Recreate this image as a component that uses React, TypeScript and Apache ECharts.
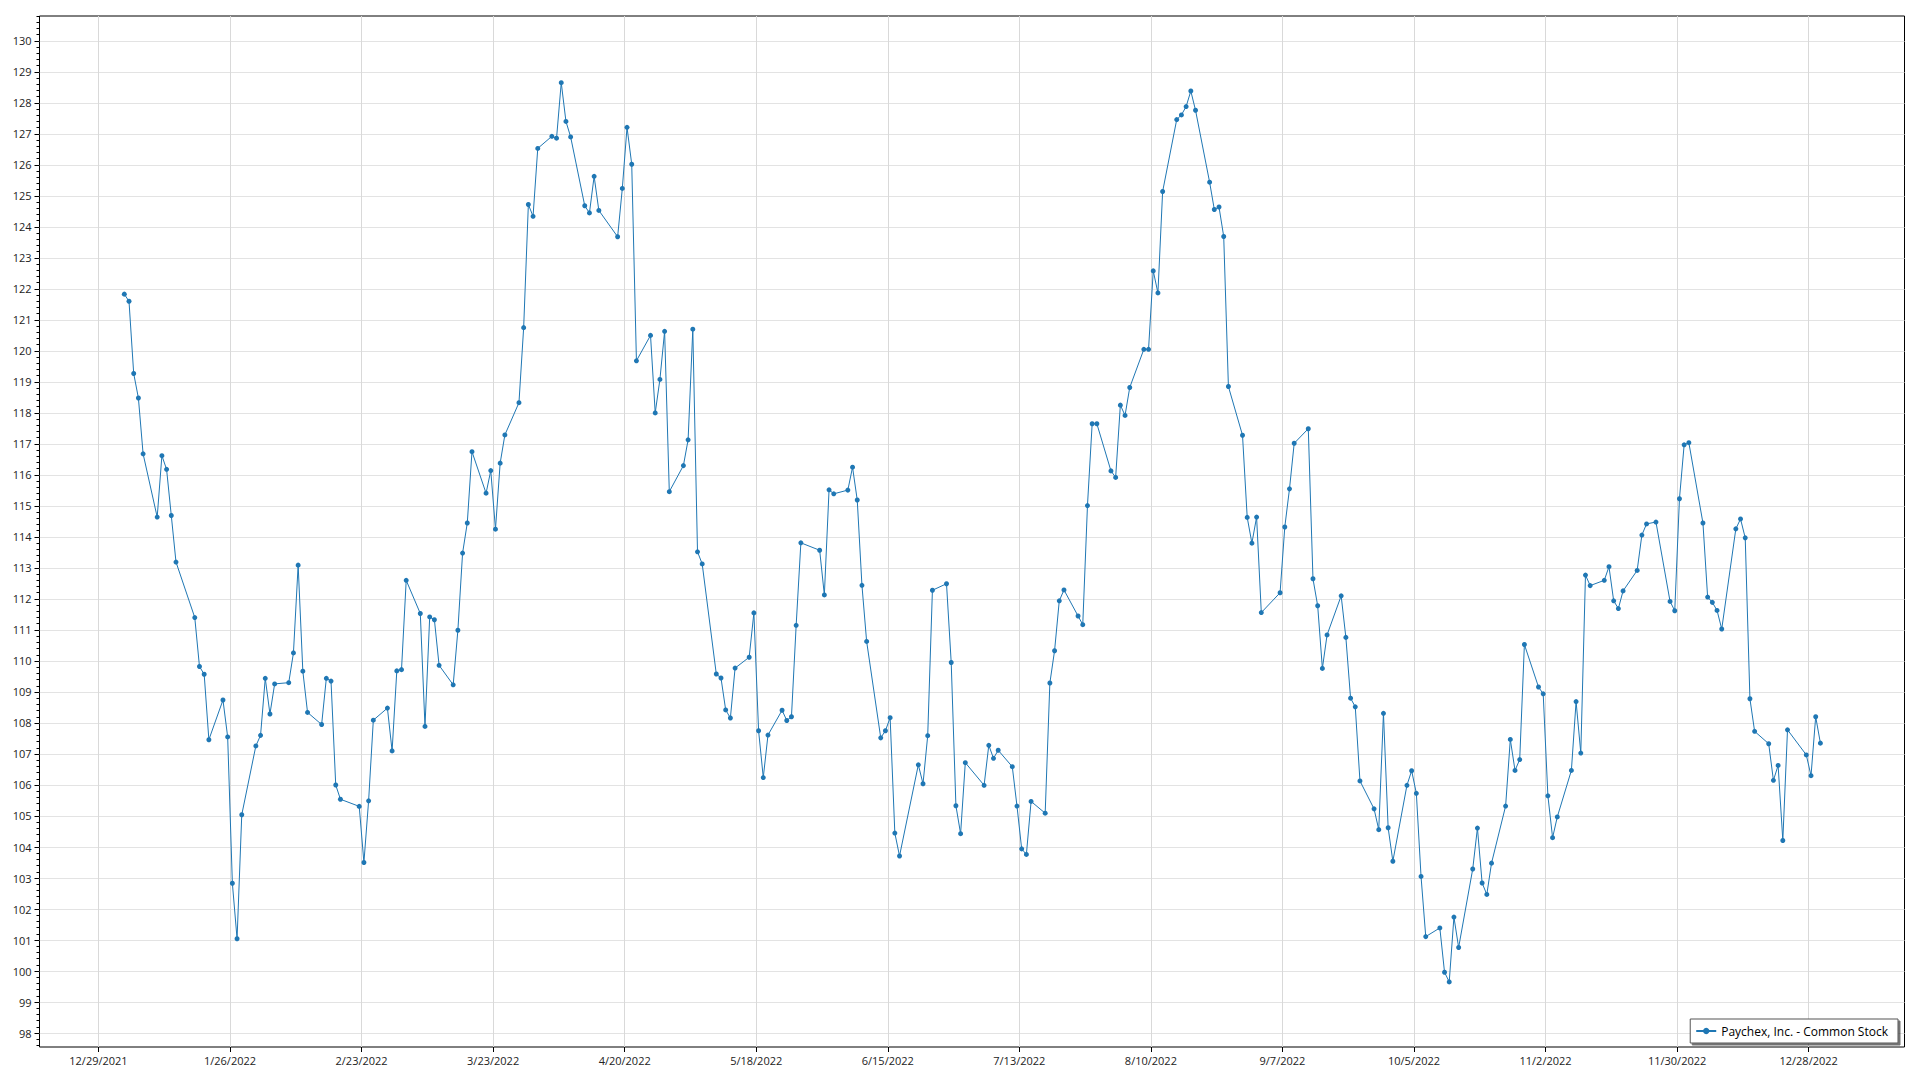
import React, { useEffect, useRef } from "react";
import * as echarts from "echarts";

// ---- data ----
const seriesName = "Paychex, Inc. - Common Stock";

const dates = [
  "2022-01-03","2022-01-04","2022-01-05","2022-01-06","2022-01-07","2022-01-10","2022-01-11","2022-01-12","2022-01-13","2022-01-14",
  "2022-01-18","2022-01-19","2022-01-20","2022-01-21","2022-01-24","2022-01-25","2022-01-26","2022-01-27","2022-01-28","2022-01-31",
  "2022-02-01","2022-02-02","2022-02-03","2022-02-04","2022-02-07","2022-02-08","2022-02-09","2022-02-10","2022-02-11","2022-02-14",
  "2022-02-15","2022-02-16","2022-02-17","2022-02-18","2022-02-22","2022-02-23","2022-02-24","2022-02-25","2022-02-28",
  "2022-03-01","2022-03-02","2022-03-03","2022-03-04","2022-03-07","2022-03-08","2022-03-09","2022-03-10","2022-03-11","2022-03-14",
  "2022-03-15","2022-03-16","2022-03-17","2022-03-18","2022-03-21","2022-03-22","2022-03-23","2022-03-24","2022-03-25","2022-03-28",
  "2022-03-29","2022-03-30","2022-03-31",
  "2022-04-01","2022-04-04","2022-04-05","2022-04-06","2022-04-07","2022-04-08","2022-04-11","2022-04-12","2022-04-13","2022-04-14",
  "2022-04-18","2022-04-19","2022-04-20","2022-04-21","2022-04-22","2022-04-25","2022-04-26","2022-04-27","2022-04-28","2022-04-29",
  "2022-05-02","2022-05-03","2022-05-04","2022-05-05","2022-05-06","2022-05-09","2022-05-10","2022-05-11","2022-05-12","2022-05-13",
  "2022-05-16","2022-05-17","2022-05-18","2022-05-19","2022-05-20","2022-05-23","2022-05-24","2022-05-25","2022-05-26","2022-05-27",
  "2022-05-31",
  "2022-06-01","2022-06-02","2022-06-03","2022-06-06","2022-06-07","2022-06-08","2022-06-09","2022-06-10","2022-06-13","2022-06-14",
  "2022-06-15","2022-06-16","2022-06-17","2022-06-21","2022-06-22","2022-06-23","2022-06-24","2022-06-27","2022-06-28","2022-06-29",
  "2022-06-30",
  "2022-07-01","2022-07-05","2022-07-06","2022-07-07","2022-07-08","2022-07-11","2022-07-12","2022-07-13","2022-07-14","2022-07-15",
  "2022-07-18","2022-07-19","2022-07-20","2022-07-21","2022-07-22","2022-07-25","2022-07-26","2022-07-27","2022-07-28","2022-07-29",
  "2022-08-01","2022-08-02","2022-08-03","2022-08-04","2022-08-05","2022-08-08","2022-08-09","2022-08-10","2022-08-11","2022-08-12",
  "2022-08-15","2022-08-16","2022-08-17","2022-08-18","2022-08-19","2022-08-22","2022-08-23","2022-08-24","2022-08-25","2022-08-26",
  "2022-08-29","2022-08-30","2022-08-31",
  "2022-09-01","2022-09-02","2022-09-06","2022-09-07","2022-09-08","2022-09-09","2022-09-12","2022-09-13","2022-09-14","2022-09-15",
  "2022-09-16","2022-09-19","2022-09-20","2022-09-21","2022-09-22","2022-09-23","2022-09-26","2022-09-27","2022-09-28","2022-09-29",
  "2022-09-30",
  "2022-10-03","2022-10-04","2022-10-05","2022-10-06","2022-10-07","2022-10-10","2022-10-11","2022-10-12","2022-10-13","2022-10-14",
  "2022-10-17","2022-10-18","2022-10-19","2022-10-20","2022-10-21","2022-10-24","2022-10-25","2022-10-26","2022-10-27","2022-10-28",
  "2022-10-31",
  "2022-11-01","2022-11-02","2022-11-03","2022-11-04","2022-11-07","2022-11-08","2022-11-09","2022-11-10","2022-11-11","2022-11-14",
  "2022-11-15","2022-11-16","2022-11-17","2022-11-18","2022-11-21","2022-11-22","2022-11-23","2022-11-25","2022-11-28","2022-11-29",
  "2022-11-30",
  "2022-12-01","2022-12-02","2022-12-05","2022-12-06","2022-12-07","2022-12-08","2022-12-09","2022-12-12","2022-12-13","2022-12-14",
  "2022-12-15","2022-12-16","2022-12-19","2022-12-20","2022-12-21","2022-12-22","2022-12-23","2022-12-27","2022-12-28","2022-12-29",
  "2022-12-30",
];

const closes = [
  121.83,121.6,119.27,118.48,116.68,114.64,116.62,116.18,114.69,113.19,
  111.4,109.82,109.57,107.46,108.74,107.55,102.83,101.04,105.04,107.26,
  107.6,109.44,108.29,109.26,109.3,110.26,113.09,109.67,108.34,107.95,
  109.44,109.35,106.0,105.54,105.31,103.5,105.49,108.09,108.48,
  107.1,109.68,109.72,112.6,111.53,107.89,111.42,111.33,109.86,109.23,
  110.99,113.48,114.45,116.75,115.41,116.14,114.25,116.38,117.29,118.33,
  120.75,124.72,124.34,
  126.53,126.92,126.86,128.65,127.4,126.9,124.68,124.45,125.63,124.53,
  123.68,125.24,127.21,126.02,119.68,120.5,118.0,119.08,120.63,115.46,
  116.3,117.13,120.7,113.52,113.13,109.58,109.45,108.42,108.16,109.77,
  110.12,111.55,107.75,106.24,107.61,108.41,108.08,108.2,111.15,113.81,
  113.57,
  112.13,115.52,115.39,115.51,116.25,115.19,112.44,110.63,107.52,107.75,
  108.17,104.45,103.71,106.65,106.04,107.59,112.28,112.49,109.95,105.33,
  104.43,
  106.72,105.99,107.28,106.86,107.12,106.59,105.32,103.94,103.76,105.47,
  105.09,109.29,110.33,111.94,112.29,111.45,111.17,115.01,117.65,117.65,
  116.13,115.92,118.25,117.92,118.82,120.05,120.05,122.58,121.87,125.14,
  127.46,127.61,127.88,128.38,127.76,125.44,124.56,124.64,123.69,118.85,
  117.28,114.63,113.8,
  114.64,111.56,112.2,114.32,115.55,117.02,117.49,112.65,111.78,109.76,
  110.84,112.1,110.76,108.8,108.52,106.13,105.23,104.56,108.31,104.62,
  103.54,
  105.99,106.46,105.73,103.05,101.11,101.39,99.96,99.65,101.74,100.76,
  103.29,104.61,102.84,102.47,103.48,105.32,107.47,106.47,106.82,110.53,
  109.16,
  108.94,105.65,104.3,104.97,106.47,108.69,107.03,112.77,112.43,112.6,
  113.04,111.94,111.69,112.26,112.92,114.06,114.42,114.48,111.92,111.62,
  115.23,
  116.97,117.04,114.45,112.06,111.89,111.63,111.03,114.26,114.58,113.97,
  108.78,107.73,107.33,106.15,106.63,104.21,107.78,106.97,106.3,108.2,
  107.35,
];

const xTickDates = [
  "2021-12-29","2022-01-26","2022-02-23","2022-03-23","2022-04-20","2022-05-18","2022-06-15",
  "2022-07-13","2022-08-10","2022-09-07","2022-10-05","2022-11-02","2022-11-30","2022-12-28",
];

const yTicks = [
  98,99,100,101,102,103,104,105,106,107,108,109,110,111,112,113,114,
  115,116,117,118,119,120,121,122,123,124,125,126,127,128,129,130,
];

// ---- helpers ----
const ORIGIN = Date.UTC(2021, 11, 29);
const DAY = 86400000;
const dayOffset = (s: string, hour = 0) => {
  const [y, m, d] = s.split("-").map(Number);
  return (Date.UTC(y, m - 1, d, hour) - ORIGIN) / DAY;
};
const fmtDate = (off: number) => {
  const dt = new Date(ORIGIN + Math.round(off) * DAY);
  return `${dt.getUTCMonth() + 1}/${dt.getUTCDate()}/${dt.getUTCFullYear()}`;
};

// closing quotes are stamped at midday
const QUOTE_HOUR = 12;

const X_MIN = -12.55;
const X_MAX = 384.4;
const Y_MIN = 97.55;
const Y_MAX = 130.8;

const yMinorTicks: number[] = [];
for (let i = 0; ; i++) {
  const v = Math.round((97.6 + i * 0.2) * 10) / 10;
  if (v > Y_MAX) break;
  if (Math.abs(v - Math.round(v)) > 1e-6) yMinorTicks.push(v);
}

const FONT = '"Segoe UI", "Open Sans", "Noto Sans", sans-serif';
const LINE_COLOR = "#1f77b4";

export default function App() {
  const ref = useRef<HTMLDivElement>(null);

  useEffect(() => {
    if (!ref.current) return;
    const chart = echarts.init(ref.current, null, { renderer: "svg" });
    const xTicks = xTickDates.map((d) => dayOffset(d));
    const data = dates.map((d, i) => [dayOffset(d, QUOTE_HOUR), closes[i]]);

    chart.setOption({
      animation: false,
      backgroundColor: "#ffffff",
      grid: {
        left: 39.5,
        right: 15.5,
        top: 16,
        bottom: 33,
        show: true,
        borderColor: "#000000",
        borderWidth: 1,
        backgroundColor: "transparent",
        containLabel: false,
      },
      xAxis: {
        type: "value",
        min: X_MIN,
        max: X_MAX,
        position: "bottom",
        axisLine: { show: false, onZero: false },
        axisTick: { show: true, customValues: xTicks, length: 5, lineStyle: { color: "#000" } },
        axisLabel: {
          customValues: xTicks,
          formatter: (v: number) => fmtDate(v),
          fontFamily: FONT,
          fontSize: 11,
          color: "#222",
          margin: 8,
        },
        splitLine: { show: true, lineStyle: { color: "#d9d9d9", width: 1 } },
      },
      yAxis: [
        {
          type: "value",
          min: Y_MIN,
          max: Y_MAX,
          position: "left",
          axisLine: { show: false, onZero: false },
          axisTick: { show: true, customValues: yTicks, length: 5, lineStyle: { color: "#000" } },
          axisLabel: {
            customValues: yTicks,
            fontFamily: FONT,
            fontSize: 11,
            color: "#222",
            margin: 8,
          },
          splitLine: { show: true, lineStyle: { color: "#e3e3e3", width: 1 } },
        },
        {
          type: "value",
          position: "left",
          min: Y_MIN,
          max: Y_MAX,
          axisLine: { show: false, onZero: false },
          axisTick: { show: true, customValues: yMinorTicks, length: 3, lineStyle: { color: "#000" } },
          axisLabel: { show: false },
          splitLine: { show: false },
        },
      ],
      legend: {
        show: true,
        right: 22,
        bottom: 37,
        itemWidth: 20,
        itemHeight: 8,
        padding: [6, 10, 6, 5],
        borderColor: "#555",
        borderWidth: 1,
        backgroundColor: "#ffffff",
        shadowColor: "rgba(0,0,0,0.55)",
        shadowOffsetX: 2,
        shadowOffsetY: 2,
        shadowBlur: 0,
        textStyle: { fontFamily: FONT, fontSize: 12, color: "#000" },
        data: [seriesName],
      },
      series: [
        {
          name: seriesName,
          type: "line",
          data,
          yAxisIndex: 0,
          symbol: "circle",
          symbolSize: 5,
          showSymbol: true,
          showAllSymbol: true,
          clip: false,
          itemStyle: { color: LINE_COLOR },
          lineStyle: { color: LINE_COLOR, width: 1 },
          emphasis: { disabled: true },
        },
      ],
    });

    return () => chart.dispose();
  }, []);

  return (
    <div
      ref={ref}
      style={{ position: "absolute", left: 0, top: 0, width: 1920, height: 1080 }}
    />
  );
}
